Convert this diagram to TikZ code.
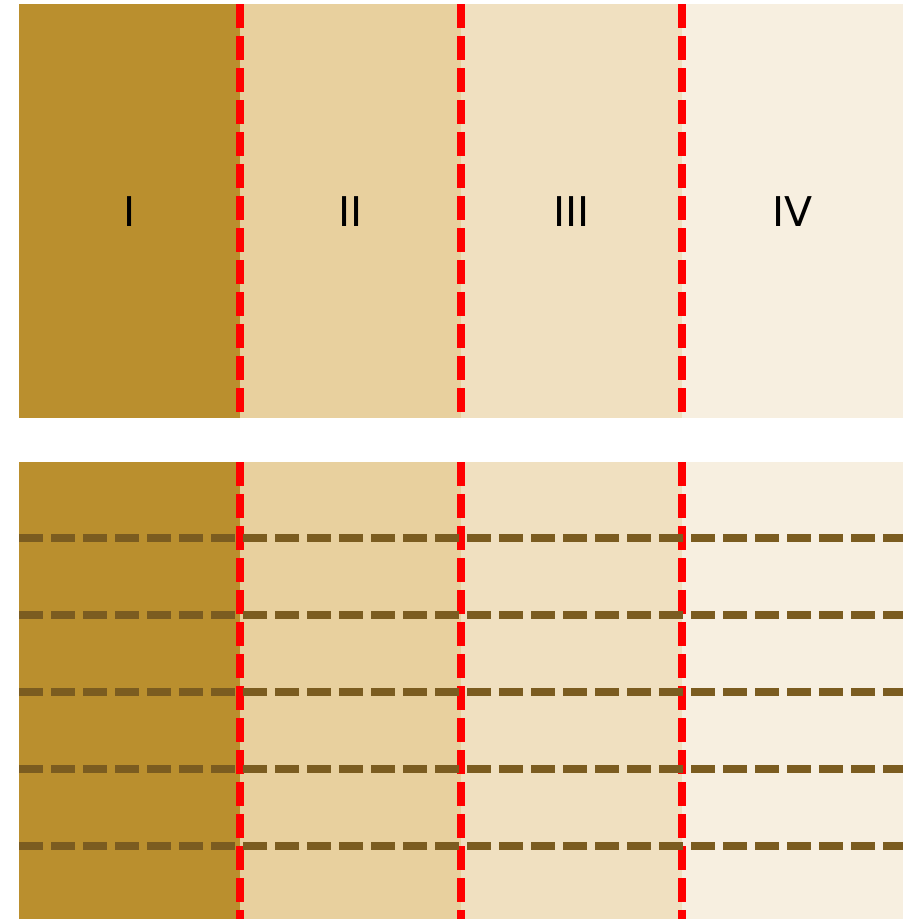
\documentclass[tikz,border=0pt]{standalone}
\usepackage{fontspec}
\setmainfont{DejaVu Sans}
\definecolor{colA}{RGB}{186,143,46}
\definecolor{colB}{RGB}{232,208,158}
\definecolor{colC}{RGB}{240,224,192}
\definecolor{colD}{RGB}{247,239,224}
\definecolor{brownline}{RGB}{123,92,32}
\tikzset{
  reddash/.style={draw=red, line width=8pt, dash pattern=on 24pt off 8pt},
  browndash/.style={draw=brownline, line width=8pt, dash pattern=on 24pt off 8pt},
  lbl/.style={font=\fontsize{41}{41}\selectfont, text=black, inner sep=0pt}
}
\begin{document}
\begin{tikzpicture}[x=1pt,y=-1pt]
\useasboundingbox (0,0) rectangle (907,919);
% top panel
\fill[colA] (19,4) rectangle (240,418);
\fill[colB] (240,4) rectangle (461,418);
\fill[colC] (461,4) rectangle (682,418);
\fill[colD] (682,4) rectangle (903,418);
% bottom panel
\fill[colA] (19,462) rectangle (240,919);
\fill[colB] (240,462) rectangle (461,919);
\fill[colC] (461,462) rectangle (682,919);
\fill[colD] (682,462) rectangle (903,919);
% red vertical dashed lines
\foreach \xx in {240,461,682}{
  \draw[reddash] (\xx,4) -- (\xx,418);
  \draw[reddash] (\xx,462) -- (\xx,919);
}
% horizontal brown dashed lines
\foreach \yy in {538,615,692,769,846}{
  \draw[browndash] (19,\yy) -- (903,\yy);
}
% labels
\node[lbl] (l1) at (129.5,212) {I};
\node[lbl] (l2) at (350.5,212) {II};
\node[lbl] (l3) at (571.5,212) {III};
\node[lbl] (l4) at (792.5,212) {IV};
\end{tikzpicture}
\end{document}
